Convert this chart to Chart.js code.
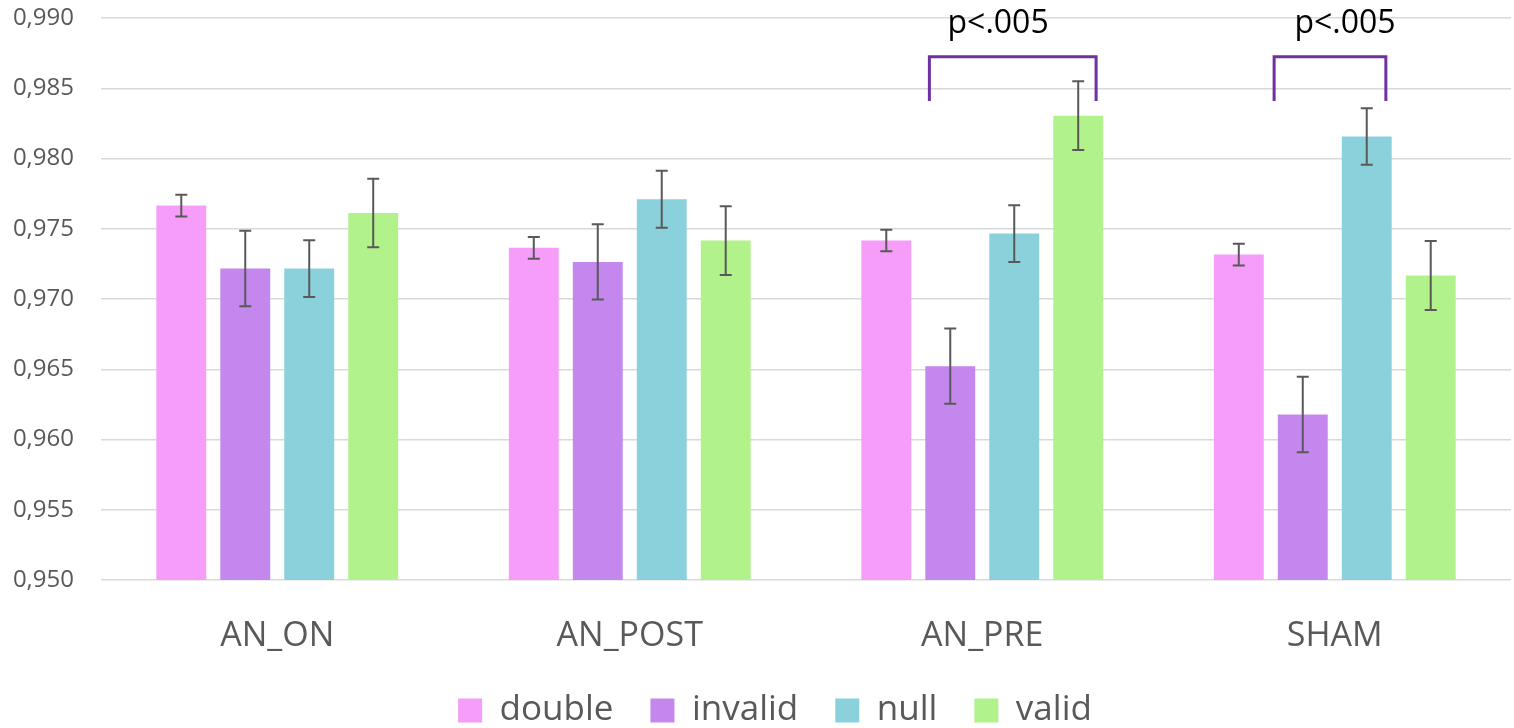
<!DOCTYPE html>
<html>
<head>
<meta charset="utf-8">
<script src="https://cdn.jsdelivr.net/npm/chart.js@4.4.1/dist/chart.umd.min.js"></script>
<style>
  html,body{margin:0;padding:0;background:#fff;}
  #wrap{width:1514px;height:728px;}
</style>
</head>
<body>
<div id="wrap"><canvas id="chart" width="1514" height="728"></canvas></div>
<script>
// data
const groups = ['AN_ON','AN_POST','AN_PRE','SHAM'];
const seriesNames = ['double','invalid','null','valid'];
const seriesColors = ['#F59DF9','#C387EE','#8AD1DC','#B1F28B'];

const doubleVals  = [0.97665, 0.97364, 0.97416, 0.97316];
const invalidVals = [0.97217, 0.97264, 0.96522, 0.96178];
const nullVals    = [0.97217, 0.97710, 0.97466, 0.98156];
const validVals   = [0.97612, 0.97416, 0.98305, 0.97167];

const doubleErr  = [0.00077, 0.00077, 0.00077, 0.00077];
const invalidErr = [0.00268, 0.00268, 0.00268, 0.00268];
const nullErr    = [0.00202, 0.00203, 0.00202, 0.00201];
const validErr   = [0.00244, 0.00245, 0.00244, 0.00245];

const yTicksMin = 0.950, yTicksMax = 0.990, yStep = 0.005;

// significance brackets: category, left/right offset (in category units), top/foot values
const sigGroup  = [2, 3];
const sigLeft   = [-0.150, -0.172];
const sigRight  = [0.323, 0.145];
const sigTop    = [0.98724, 0.98724];
const sigFoot   = [0.98409, 0.98409];
const sigLabel  = ['p<.005', 'p<.005'];
const sigLabelX = [0.045, 0.029];

const allVals = [doubleVals, invalidVals, nullVals, validVals];
const allErr  = [doubleErr, invalidErr, nullErr, validErr];

const errorBars = {
  id:'errorBars',
  afterDatasetsDraw(chart){
    const ctx = chart.ctx, y = chart.scales.y;
    ctx.save();
    ctx.strokeStyle = '#595959';
    ctx.lineWidth = 2;
    chart.data.datasets.forEach((ds, di)=>{
      chart.getDatasetMeta(di).data.forEach((bar, i)=>{
        const v = ds.data[i], e = allErr[di][i];
        const yt = y.getPixelForValue(v + e), yb = y.getPixelForValue(v - e);
        const x = bar.x;
        ctx.beginPath();
        ctx.moveTo(x, yt); ctx.lineTo(x, yb);
        ctx.moveTo(x-6, yt); ctx.lineTo(x+6, yt);
        ctx.moveTo(x-6, yb); ctx.lineTo(x+6, yb);
        ctx.stroke();
      });
    });
    ctx.restore();
  }
};

const sigBrackets = {
  id:'sigBrackets',
  afterDraw(chart){
    const ctx = chart.ctx, xs = chart.scales.x, y = chart.scales.y;
    const cw = xs.getPixelForValue(1) - xs.getPixelForValue(0);
    ctx.save();
    sigGroup.forEach((g, k)=>{
      const cx = xs.getPixelForValue(g);
      const x1 = cx + sigLeft[k]*cw, x2 = cx + sigRight[k]*cw;
      const yt = y.getPixelForValue(sigTop[k]), yf = y.getPixelForValue(sigFoot[k]);
      ctx.strokeStyle = '#7030A0';
      ctx.lineWidth = 3;
      ctx.beginPath();
      ctx.moveTo(x1, yf); ctx.lineTo(x1, yt); ctx.lineTo(x2, yt); ctx.lineTo(x2, yf);
      ctx.stroke();
      ctx.fillStyle = '#000';
      ctx.font = '32px "Open Sans"';
      ctx.textAlign = 'center';
      ctx.textBaseline = 'alphabetic';
      ctx.fillText(sigLabel[k], cx + sigLabelX[k]*cw, 33);
    });
    ctx.restore();
  }
};

// legend: keep the wide item spacing but a compact reserved height, nudged right
const legendPlace = {
  id:'legendPlace',
  beforeLayout(chart){
    const lg = chart.legend;
    if(lg && !lg._patched){
      const f = lg.fit;
      lg.fit = function(){ f.call(this); this.height = 68; };
      lg._patched = true;
    }
  },
  afterLayout(chart){
    const lg = chart.legend;
    if(!lg) return;
    lg.top = 656; lg.bottom = lg.top + 119;
    lg.left += 19.5; lg.right += 19.5;
  }
};

new Chart(document.getElementById('chart'), {
  type:'bar',
  data:{
    labels: groups,
    datasets: seriesNames.map((n, i)=>({
      label: n,
      data: allVals[i],
      backgroundColor: seriesColors[i],
      borderWidth: 0,
      categoryPercentage: 0.726,
      barPercentage: 0.78
    }))
  },
  options:{
    responsive:false, animation:false,
    layout:{ padding:{ left:0, right:3, top:18, bottom:0 } },
    plugins:{
      tooltip:{ enabled:false },
      legend:{
        position:'bottom',
        labels:{
          font:{ family:'"Open Sans"', size:35 },
          color:'#595959',
          boxWidth:24, boxHeight:24,
          padding:37
        }
      }
    },
    scales:{
      x:{
        grid:{ display:false, drawTicks:false },
        border:{ display:false },
        ticks:{ font:{ family:'"Open Sans"', size:34 }, color:'#595959', padding:36 },
        afterFit(s){ s.height = 80; }
      },
      y:{
        min: yTicksMin, max: yTicksMax,
        grid:{ color:'#d9d9d9', lineWidth:1.5, drawTicks:false },
        border:{ display:false },
        ticks:{
          stepSize: yStep,
          font:{ family:'"Open Sans"', size:24 },
          color:'#595959',
          padding:27,
          callback:(v)=> v.toFixed(3).replace('.', ',')
        },
        afterFit(s){ s.width = 101; s.paddingTop = 0; s.paddingBottom = 0; }
      }
    }
  },
  plugins:[errorBars, sigBrackets, legendPlace]
});
</script>
</body>
</html>
